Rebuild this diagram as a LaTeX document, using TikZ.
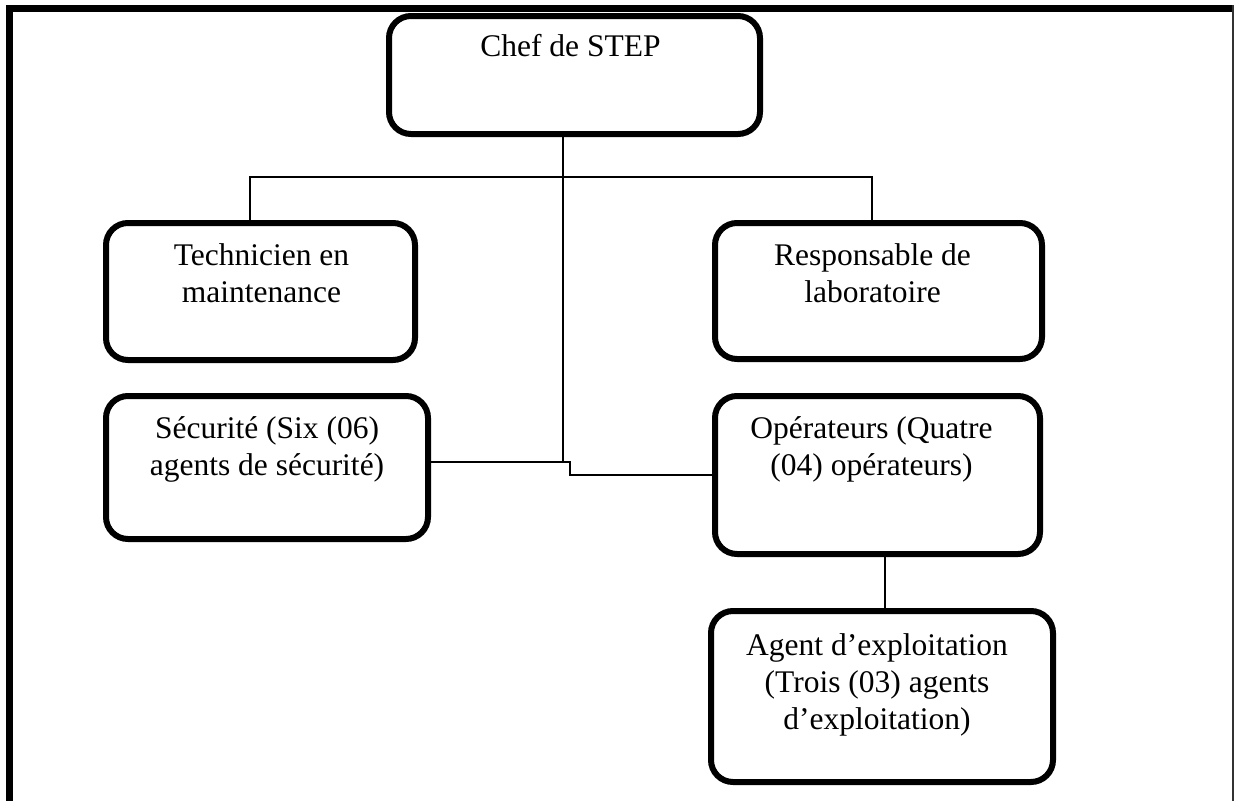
\documentclass[tikz,border=0pt]{standalone}
\usepackage{fontspec}
\setmainfont{Liberation Serif}
\tikzset{
  orgbox/.style={draw=black, line width=6pt, rounded corners=22pt, inner sep=0pt, fill=white},
  orgtext/.style={anchor=north, inner sep=0pt, align=center,
    font=\fontsize{31.5}{36.7}\selectfont},
  link/.style={draw=black, line width=1.6pt},
  frameline/.style={draw=black, line width=7pt}
}
\begin{document}
\begin{tikzpicture}[x=1pt, y=-1pt]
  % page area
  \useasboundingbox (0,0) rectangle (1235,801);

  % outer frame: heavy top and left rules, hairline on the right
  \coordinate (ftl) at (6,8.5);
  \coordinate (ftr) at (1234,8.5);
  \coordinate (flt) at (9.5,5);
  \coordinate (flb) at (9.5,801);
  \coordinate (frt) at (1233,5);
  \coordinate (frb) at (1233,801);
  \draw[frameline] (ftl) -- (ftr);
  \draw[frameline] (flt) -- (flb);
  \draw[black!80, line width=1.5pt] (frt) -- (frb);

  % boxes
  \node[orgbox, minimum width=371pt, minimum height=118pt] (chef)  at (574.5,75)   {};
  \node[orgbox, minimum width=309pt, minimum height=137pt] (tech)  at (260.5,291.5) {};
  \node[orgbox, minimum width=327pt, minimum height=136pt] (resp)  at (878.5,291)  {};
  \node[orgbox, minimum width=322pt, minimum height=143pt] (secu)  at (267,467.5)  {};
  \node[orgbox, minimum width=325pt, minimum height=158pt] (oper)  at (877.5,475)  {};
  \node[orgbox, minimum width=342pt, minimum height=171pt] (agent) at (882,696.5)  {};

  % labels
  \node[orgtext] (chef-t)  at ([xshift=-4pt, yshift=-18pt]chef.north)  {\strut Chef de STEP};
  \node[orgtext] (tech-t)  at ([xshift=1pt, yshift=-20pt]tech.north)   {\strut Technicien en\\maintenance};
  \node[orgtext] (resp-t)  at ([xshift=-6pt, yshift=-20pt]resp.north)  {\strut Responsable de\\laboratoire};
  \node[orgtext] (secu-t)  at ([yshift=-20pt]secu.north)               {\strut Sécurité (Six (06)\\agents de sécurité)};
  \node[orgtext] (oper-t)  at ([xshift=-6pt, yshift=-20pt]oper.north)  {\strut Opérateurs (Quatre\\(04) opérateurs)};
  \node[orgtext] (agent-t) at ([xshift=-5pt, yshift=-22pt]agent.north) {\strut Agent d’exploitation\\(Trois (03) agents\\d’exploitation)};

  % connector joints
  \coordinate (tl) at (250,177);
  \coordinate (tr) at (872,177);
  \coordinate (j1) at (563,462);
  \coordinate (j2) at (570,462);
  \coordinate (j3) at (570,475);
  \coordinate (oa) at (885,580);

  % connectors
  \draw[link] (chef.south -| j1) -- (j1);
  \draw[link] (tech.north -| tl) -- (tl) -- (tr) -- (resp.north -| tr);
  \draw[link] (secu.east |- j1) -- (j2) -- (j3) -- (oper.west |- j3);
  \draw[link] (oper.south -| oa) -- (agent.north -| oa);
\end{tikzpicture}
\end{document}
